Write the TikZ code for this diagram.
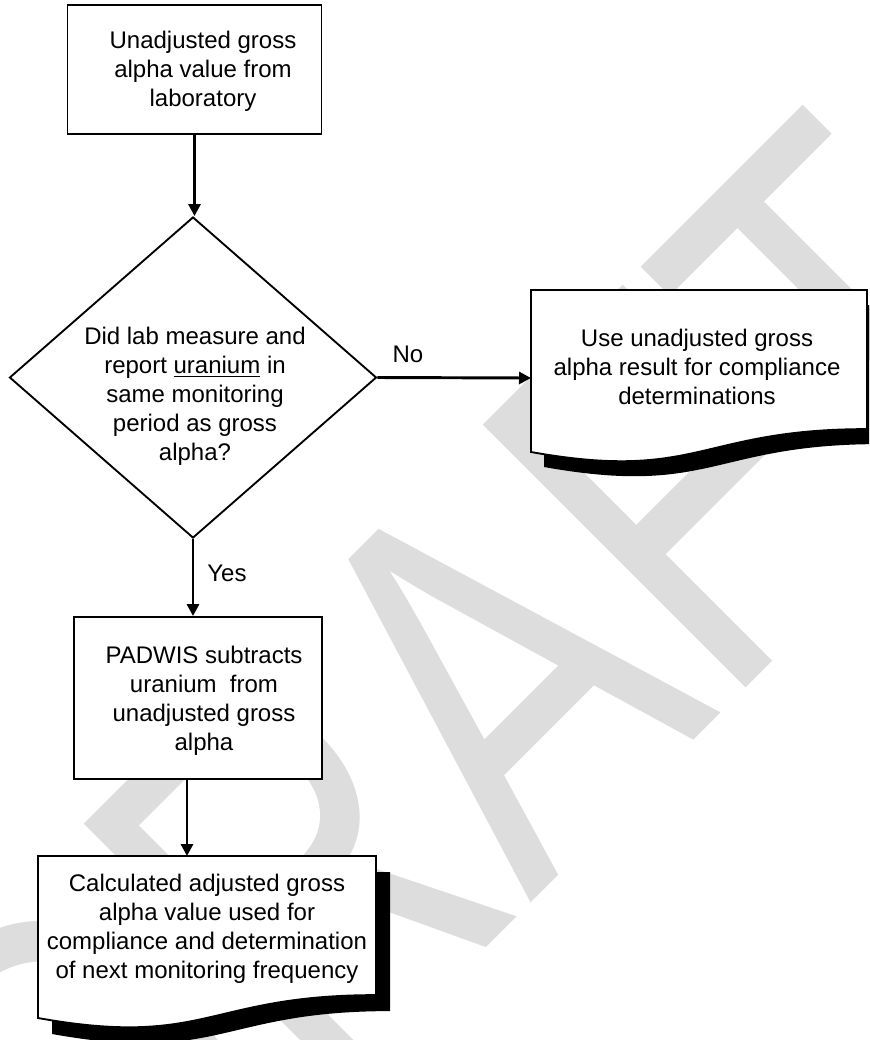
\documentclass[tikz,border=0pt]{standalone}
\usepackage{fontspec}
\setmainfont{Liberation Sans}
\newfontfamily\wmfont{Liberation Sans}
\usetikzlibrary{shapes.geometric,arrows.meta,calc}
\definecolor{wmgray}{RGB}{221,221,221}
\tikzset{
  boxline/.style={draw=black,line width=1.4pt,fill=white},
  procbox/.style={boxline,rectangle,inner sep=0pt},
  decbox/.style={boxline,diamond,inner sep=0pt},
  anchorbox/.style={rectangle,inner sep=0pt,outer sep=0pt},
  txt/.style={align=center,inner sep=0pt,font=\fontsize{18}{21.75}\selectfont},
  lbl/.style={inner sep=0pt,font=\fontsize{18}{21.75}\selectfont},
  arr/.style={line width=2.2pt,-{Triangle[length=9pt,width=9pt]}},
}
\begin{document}
\begin{tikzpicture}[x=0.75pt,y=-0.75pt]
\useasboundingbox (0,0) rectangle (869,1040);
\clip (0,0) rectangle (869,1040);
\fill[white] (0,0) rectangle (869,1040);
% watermark
\node[anchor=base west,inner sep=0pt,outer sep=0pt,rotate=45,yscale=1.333,text=wmgray,
      font=\wmfont\fontsize{304}{304}\selectfont] (wm) at (117,1317) {DRAFT};
% box 1
\node[procbox,minimum width=190.5pt,minimum height=96.75pt] (b1) at (194.5,69.5) {};
\node[txt] (t1) at (203,71.5) {Unadjusted gross\\alpha value from\\laboratory};
% decision
\node[decbox,minimum width=275.25pt,minimum height=240.75pt] (d1) at (193,377.5) {};
\node[txt] (td) at (195,396.5) {Did lab measure and\\report \underline{uranium} in\\same monitoring\\period as gross\\alpha?};
% document 2 (No)
\node[anchorbox,minimum width=252pt,minimum height=132pt] (b2) at (699,378) {};
\fill[black] (544,305) -- (880,305) -- (880,444.1) .. controls (712,444.1) and (712,497) .. (544,467) -- cycle;
\draw[boxline] (531,290) -- (867,290) -- (867,429.1) .. controls (699,429.1) and (699,482) .. (531,452) -- cycle;
\node[txt] (t2) at (697,367) {Use unadjusted gross\\alpha result for compliance\\determinations};
% box 3
\node[procbox,minimum width=186pt,minimum height=121.5pt] (b3) at (198,698) {};
\node[txt] (t3) at (204,700.75) {PADWIS subtracts\\uranium\ \ from\\unadjusted gross\\alpha};
% document 4
\node[anchorbox,minimum width=253.5pt,minimum height=120pt] (b4) at (207,936) {};
\fill[black] (52,872) -- (390,872) -- (390,1011.1) .. controls (221,1011.1) and (221,1064.2) .. (52,1034) -- cycle;
\draw[boxline] (38,856) -- (376,856) -- (376,995.1) .. controls (207,995.1) and (207,1048.2) .. (38,1018) -- cycle;
\node[txt] (t4) at (207,928.5) {Calculated adjusted gross\\alpha value used for\\compliance and determination\\of next monitoring frequency};
% connectors
\draw[arr] (b1.south) -- (b1.south |- d1.north);
\draw[arr] (d1.east) -- (b2.west);
\draw[arr] (d1.south) -- (d1.south |- b3.north);
\coordinate (c34) at (187,0);
\draw[arr] (b3.south -| c34) -- (b4.north -| c34);
% labels
\node[lbl] (no) at (408,354) {No};
\node[lbl] (yes) at (227,573) {Yes};
\end{tikzpicture}
\end{document}
